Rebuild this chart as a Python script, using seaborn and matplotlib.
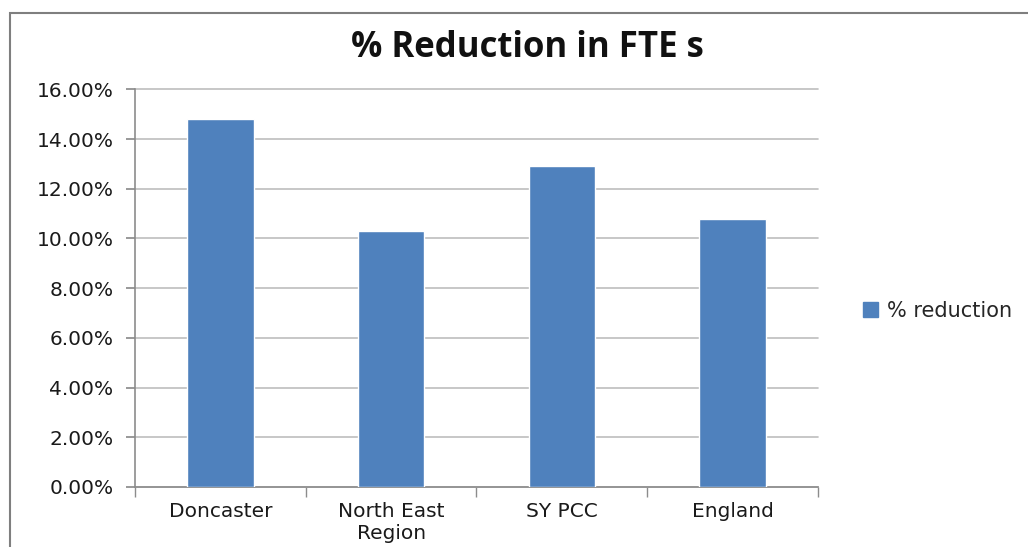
import pandas as pd
import matplotlib.pyplot as plt
import seaborn as sns
from matplotlib.ticker import FuncFormatter
from matplotlib.patches import Rectangle, Patch

# Data
regions = ["Doncaster", "North East\nRegion", "SY PCC", "England"]
reduction = [0.148, 0.103, 0.129, 0.108]
series_name = "% reduction"

df = pd.DataFrame({"Region": regions, "Reduction": reduction})

sns.set_theme(style="white")
plt.rcParams['font.family'] = ['DejaVu Sans']

fig = plt.figure(figsize=(10.28, 5.47), dpi=100)
ax = fig.add_axes([0.1313, 0.1097, 0.6644, 0.727])

bar_color = "#4F81BD"
sns.barplot(data=df, x="Region", y="Reduction", color=bar_color,
            width=0.39, saturation=1, ax=ax, zorder=3)

ax.set_ylim(0, 0.16)
ax.set_yticks([i * 0.02 for i in range(9)])
ax.yaxis.set_major_formatter(FuncFormatter(lambda v, _: f"{v*100:.2f}%"))
ax.grid(axis="y", color="#BDBDBD", linewidth=1.2, zorder=0)
for gl in ax.get_ygridlines():
    gl.set_clip_on(False)
ax.set_xlim(-0.5, 3.5)
ax.set_xlabel("")
ax.set_ylabel("")

for side in ["top", "right"]:
    ax.spines[side].set_visible(False)
for side in ["left", "bottom"]:
    ax.spines[side].set_color("#8C8C8C")
    ax.spines[side].set_linewidth(1.2)

# tick marks in Excel style
ax.tick_params(axis="y", left=True, length=6.5, color="#8C8C8C", labelsize=14.5, pad=9)
ax.set_xticks([0, 1, 2, 3])
ax.set_xticks([-0.5, 0.5, 1.5, 2.5, 3.5], minor=True)
ax.tick_params(axis="x", which="minor", bottom=True, length=7, color="#8C8C8C")
ax.tick_params(axis="x", which="major", bottom=False, labelsize=14.5, pad=5)
for lbl in ax.get_xticklabels() + ax.get_yticklabels():
    lbl.set_color("#1A1A1A")

fig.text(0.513, 0.912, "% Reduction in FTE s", ha="center", va="center",
         fontsize=25, fontweight="bold", color="#111111", family=["Open Sans", "DejaVu Sans"])

ax.legend(handles=[Patch(color=bar_color, label=series_name)],
          loc="center left", bbox_to_anchor=(1.038, 0.443), frameon=False,
          fontsize=15, handlelength=0.75, handleheight=0.75, handletextpad=0.4)

# chart border (left and top edges visible in the reference)
fig.patches.append(Rectangle((0.0097, -0.05), 1.05, 1.026, transform=fig.transFigure,
                             fill=False, edgecolor="#7F7F7F", linewidth=1.5))

fig.savefig("out.png", dpi=100)
